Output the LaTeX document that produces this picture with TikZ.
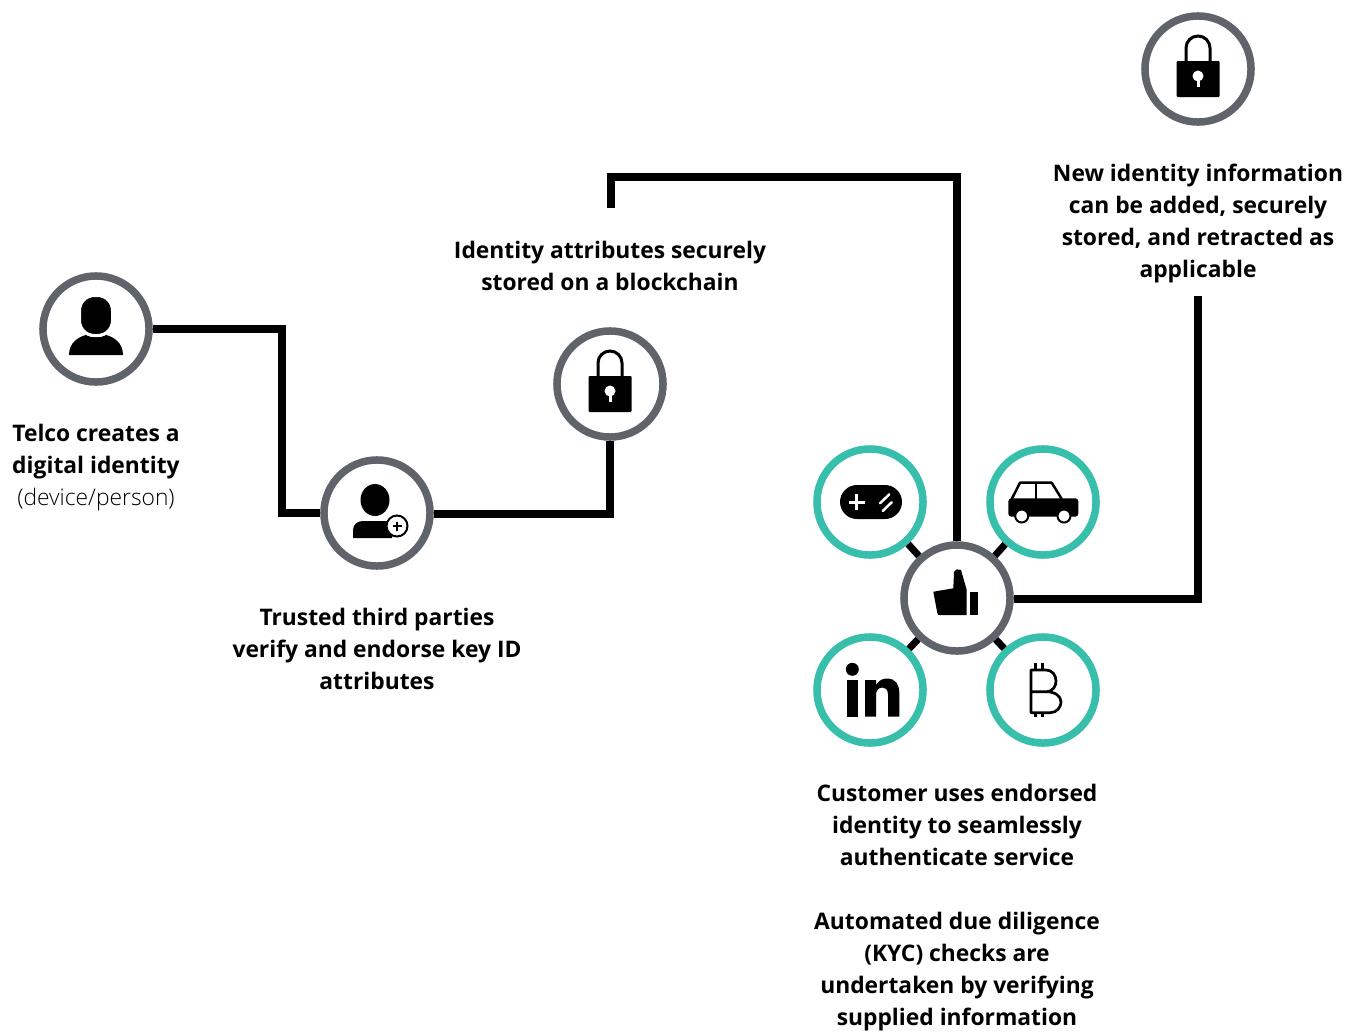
\documentclass[tikz,border=0pt]{standalone}
\usepackage{fontspec}
\usetikzlibrary{calc}
\setmainfont{Open Sans}
\newfontfamily\lightfont{Open Sans Light}
\definecolor{ringgrey}{HTML}{5F646B}
\definecolor{ringteal}{HTML}{38BFAB}
\tikzset{
  idring/.style={circle,draw=ringgrey,fill=white,line width=0.075cm,minimum size=1.06cm,inner sep=0pt},
  appring/.style={idring,draw=ringteal},
  wire/.style={line width=0.078cm},
  spoke/.style={line width=0.07cm},
  caption/.style={align=center,inner sep=0pt,font=\fontsize{6.49}{9.1}\selectfont\bfseries},
  lockicon/.pic={
    \fill[rounded corners=0.01cm] (-21.5,-28) rectangle (21.5,8);
    \draw[line width=0.03cm] (-12,8) -- (-12,21) arc (180:0:12) -- (12,8);
    \fill[white] (0,-7) circle (5.5);
    \fill[white] (-1.5,-18) rectangle (1.5,-7);
  },
  personicon/.pic={
    \fill (-27,-26) .. controls (-27,-14) and (-18,-8) .. (-10,-6) .. controls (-5,-9) and (5,-9) .. (10,-6) .. controls (18,-8) and (27,-14) .. (27,-26) -- cycle;
    \draw[white,fill=black,line width=0.03cm,rounded corners=0.15cm] (-16.5,-6.5) rectangle (16.5,33.5);
  },
  addicon/.pic={
    \fill (-24,-25) -- (-24,-17) .. controls (-24,-11) and (-19,-8) .. (-14,-8) -- (15,-8) -- (15,-25) -- cycle;
    \fill (-2,13) ellipse (14.5 and 16);
    \draw[fill=white,line width=0.02cm] (20,-13) circle (10.5);
    \draw[line width=0.02cm] (15.5,-13) -- (24.5,-13) (20,-8.5) -- (20,-17.5);
  },
  padicon/.pic={
    \fill[rounded corners=0.17cm] (-30,-17) rectangle (32,17);
    \draw[white,line width=0.03cm] (-21.5,0) -- (-5.5,0) (-13.5,-8) -- (-13.5,8);
    \draw[white,line width=0.025cm,line cap=round] (10,-1.3) -- (19.3,7.7) (12.7,-9) -- (21.7,-0.3);
  },
  caricon/.pic={
    \fill[rounded corners=0.03cm] (-34.7,-14.7) rectangle (35.3,3.7);
    \draw[line width=0.025cm,line join=round] (-31.3,3) -- (-23,19.3) -- (8.7,19.3) -- (18.7,3);
    \draw[line width=0.025cm] (-7,19.3) -- (-7,3);
    \draw[fill=white,line width=0.02cm] (-21.3,-14) circle (6.5);
    \draw[fill=white,line width=0.02cm] (21,-14) circle (6.5);
  },
  thumbicon/.pic={
    \fill[line join=round] (-23.7,6.3) -- (-3.7,9.7) -- (-3,26.3) -- (-0.3,28.7) -- (4,28) -- (9.7,8) -- (9.7,-17) -- (-17,-17) .. controls (-19,-17) .. (-19.7,-15) -- cycle;
    \fill (13,-17) rectangle (20.7,6.3);
  },
  linkicon/.pic={
    \fill (-17.7,20.7) circle (6.5);
    \fill (-23.3,-26.7) rectangle (-11.7,10);
    \fill (-5,-26.7) -- (-5,10) -- (6,10) -- (6,5) .. controls (9,10) and (13,11.5) .. (17,11.5) .. controls (26,11.5) and (29.3,5) .. (29.3,-3) -- (29.3,-26.7) -- (18,-26.7) -- (18,-5) .. controls (18,1) and (15,2.5) .. (12.5,2.5) .. controls (8,2.5) and (6,-1) .. (6,-5) -- (6,-26.7) -- cycle;
  },
  coinicon/.pic={
    \draw[line width=0.027cm,line join=round] (-12,-1.7) -- (3,-1.7) .. controls (10,-1.7) and (13,4) .. (13,9) .. controls (13,15) and (9,20) .. (3,20) -- (-12,20) -- (-12,-22.7) -- (7,-22.7) .. controls (14,-22.7) and (18,-17) .. (18,-12) .. controls (18,-6) and (12,-1.7) .. (3,-1.7);
    \draw[line width=0.027cm] (-7.3,20) -- (-7.3,26.7) (-0.7,20) -- (-0.7,26.7) (-7.3,-22.7) -- (-7.3,-27.3) (-0.7,-22.7) -- (-0.7,-27.3);
  }
}

\begin{document}
\begin{tikzpicture}[x=0.01cm,y=0.01cm]
\useasboundingbox (0,0) rectangle (1358,1032);
% identity path
\node[idring] (person) at (96,703) {};
\node[idring] (endorse) at (377,519) {};
\node[idring] (chain) at (610,648) {};
\node[idring] (newlock) at (1198,963) {};
\node[idring] (hub) at (957,434) {};
\node[appring] (pad) at (870,530) {};
\node[appring] (car) at (1043,530) {};
\node[appring] (link) at (870,342) {};
\node[appring] (coin) at (1043,342) {};
\coordinate (storedright) at (957,855);
\coordinate (storedleft) at (611,855);
\coordinate (storedend) at (611,824);
\coordinate (newcorner) at (1198,433);
\coordinate (newend) at (1198,736);
\coordinate (personright) at (282,703);
\coordinate (personlow) at (282,519);
\coordinate (chainlow) at (610,518);
\draw[wire] (person) -- (personright) -- (personlow) -- (endorse);
\draw[wire] (endorse.east |- chainlow) -- (chainlow) -- (chain);
\draw[wire] (hub) -- (storedright) -- (storedleft) -- (storedend);
\draw[wire] (hub.east |- newcorner) -- (newcorner) -- (newend);
\foreach \app in {pad,car,link,coin}
  \draw[spoke] (hub) -- (\app);
% icons
\pic at (person) {personicon};
\pic at (endorse) {addicon};
\pic at (chain) {lockicon};
\pic at (newlock) {lockicon};
\pic at (hub) {thumbicon};
\pic at (pad) {padicon};
\pic at (car) {caricon};
\pic at (link) {linkicon};
\pic at (coin) {coinicon};
% captions
\node[caption] (telcotext) at (96,564) {Telco creates a\\digital identity\\{\lightfont\mdseries (device/person)}};
\node[caption] (endorsetext) at (377,383) {Trusted third parties\\verify and endorse key ID\\attributes};
\node[caption] (storedtext) at (610,766) {Identity attributes securely\\stored on a blockchain};
\node[caption] (newtext) at (1198,808) {New identity information\\can be added, securely\\stored, and retracted as\\applicable};
\node[caption] (hubtext) at (957,124) {Customer uses endorsed\\identity to seamlessly\\authenticate service\\[9.1pt]Automated due diligence\\(KYC) checks are\\undertaken by verifying\\supplied information};
\end{tikzpicture}
\end{document}
